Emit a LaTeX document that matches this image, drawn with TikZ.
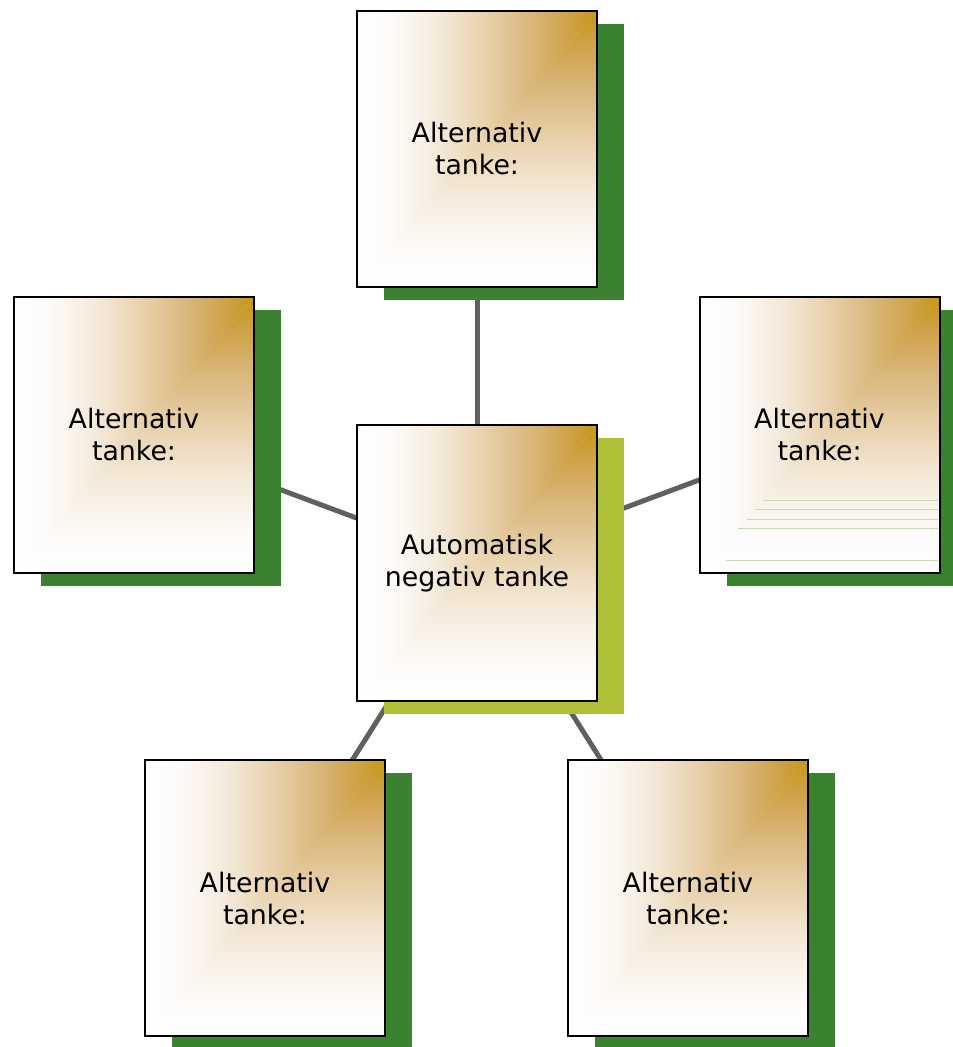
\documentclass[tikz,border=0pt]{standalone}
\usepackage{fontspec}
\setmainfont{DejaVu Sans}
\usepackage{xcolor}
\usepackage{tikz}
\usetikzlibrary{shadows,backgrounds}
\definecolor{shadowgreen}{RGB}{58, 130, 48}
\definecolor{centergreen}{RGB}{175, 191, 56}
\definecolor{linkgray}{RGB}{96, 96, 96}
\definecolor{faintgreen}{RGB}{196, 220, 186}
\pgfdeclarehorizontalshading{goldh}{100bp}{color(0bp)=(white); color(25bp)=(white);
  color(32bp)=(white!97!brown); color(42bp)=(rgb,255:red,244;green,234;blue,218);
  color(52bp)=(rgb,255:red,232;green,208;blue,170); color(62bp)=(rgb,255:red,216;green,180;blue,118);
  color(70bp)=(rgb,255:red,205;green,160;blue,65); color(75bp)=(rgb,255:red,200;green,150;blue,20);
  color(100bp)=(rgb,255:red,200;green,150;blue,20)}
\pgfdeclareverticalshading{goldv}{100bp}{color(0bp)=(white); color(25bp)=(white);
  color(32bp)=(white!97!brown); color(42bp)=(rgb,255:red,244;green,234;blue,218);
  color(52bp)=(rgb,255:red,232;green,208;blue,170); color(62bp)=(rgb,255:red,216;green,180;blue,118);
  color(70bp)=(rgb,255:red,205;green,160;blue,65); color(75bp)=(rgb,255:red,200;green,150;blue,20);
  color(100bp)=(rgb,255:red,200;green,150;blue,20)}
\tikzset{
  thoughtbox/.style={draw=black, line width=1pt, fill=white, minimum width=120pt,
    minimum height=138pt, align=center, font=\fontsize{13.4}{16}\selectfont,
    path picture={
      \coordinate (sw) at (path picture bounding box.south west);
      \coordinate (ne) at (path picture bounding box.north east);
      \begin{scope}
        \clip (sw) -- (ne) -- (sw |- ne) -- cycle;
        \shade[shading=goldh] (sw) rectangle (ne);
      \end{scope}
      \begin{scope}
        \clip (sw) -- (ne) -- (ne |- sw) -- cycle;
        \shade[shading=goldv] (sw) rectangle (ne);
      \end{scope}}},
  altbox/.style={thoughtbox, drop shadow={shadow xshift=13.5pt, shadow yshift=-6.5pt,
    fill=shadowgreen, opacity=1}},
  mainbox/.style={thoughtbox, drop shadow={shadow xshift=13.5pt, shadow yshift=-6.5pt,
    fill=centergreen, opacity=1}},
  link/.style={draw=linkgray, line width=2.5pt},
  faintline/.style={draw=faintgreen, line width=0.5pt}
}
\begin{document}
\begin{tikzpicture}[x=0.5pt, y=-0.5pt]
    \useasboundingbox (0,0) rectangle (952,1047);

    % Centre
    \node[mainbox] (neg) at (477,563) {Automatisk\\negativ tanke};

    % Alternatives
    \foreach \name/\x/\y in {alttop/477/149, altleft/134/435, altright/819.5/435,
                             altbl/265/898, altbr/688/898}
      \node[altbox] (\name) at (\x,\y) {Alternativ\\tanke:};

    % Links
    \begin{scope}[on background layer]
      \foreach \name in {alttop, altleft, altright, altbl, altbr}
        \draw[link] (neg.center) -- (\name.center);
    \end{scope}

    % Faint lines in the right box
    \foreach \y/\x in {500/763, 509/755, 519/747, 528/738, 560/726}
      \draw[faintline] (\x,\y) -- (938,\y);
\end{tikzpicture}
\end{document}
